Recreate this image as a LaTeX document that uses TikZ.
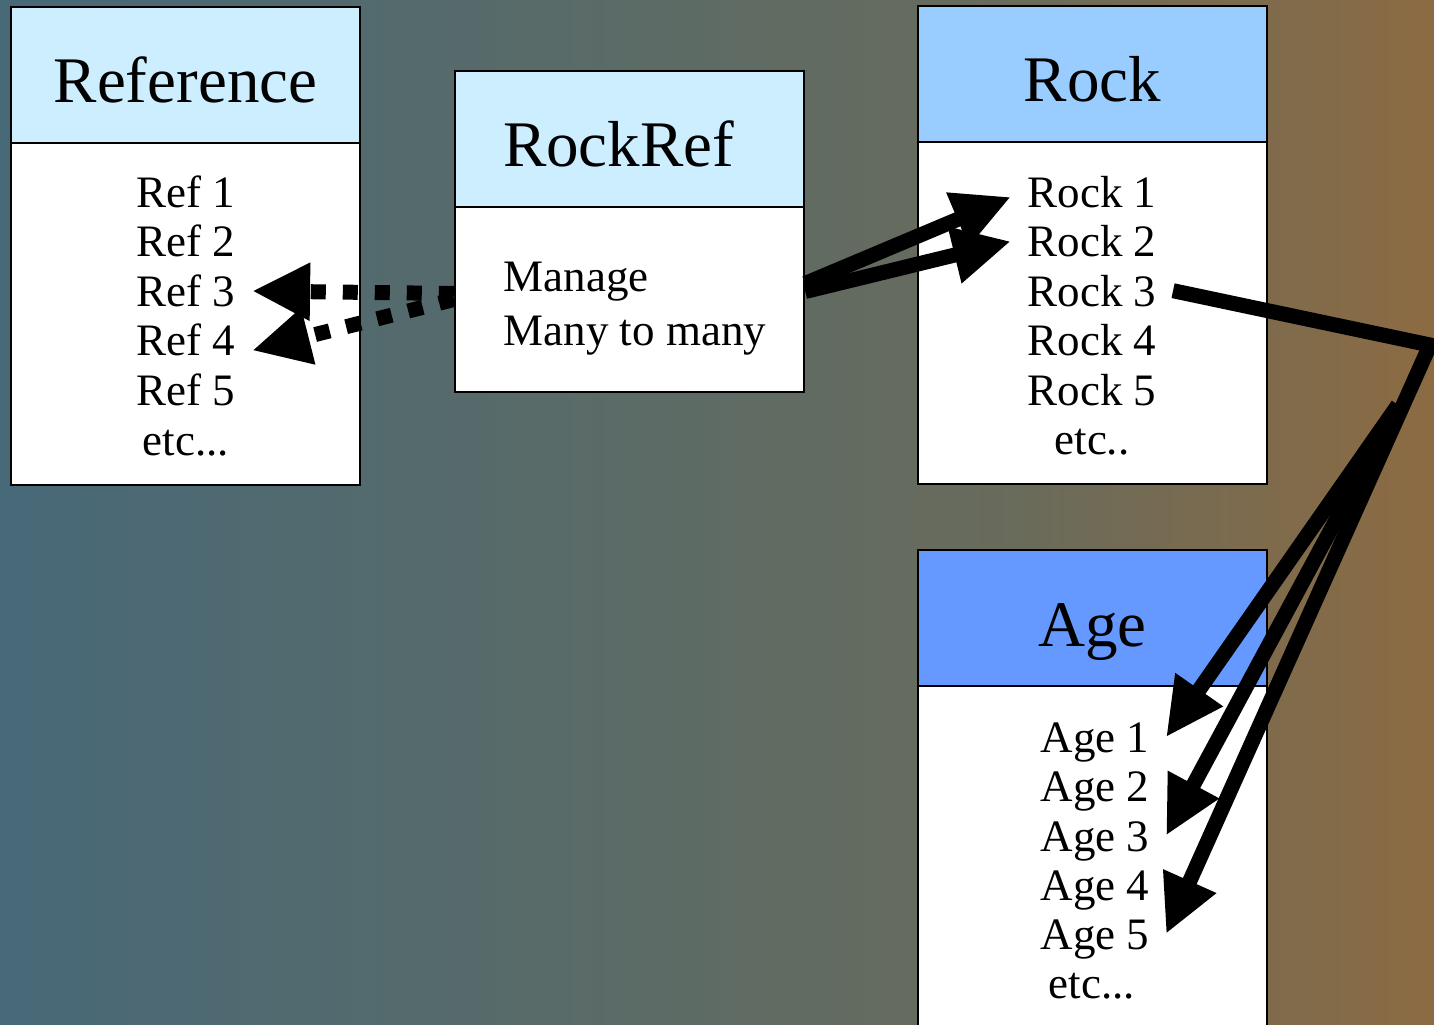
\documentclass[tikz,border=0pt]{standalone}
\usepackage{fontspec}
\setmainfont{Liberation Serif}
\usetikzlibrary{arrows.meta}

\definecolor{headpale}{HTML}{CCEEFF}
\definecolor{headmid}{HTML}{99CCFF}
\definecolor{headdeep}{HTML}{6699FF}
\pgfdeclarehorizontalshading{slate}{100bp}{
  rgb(0bp)=(0.28,0.41,0.47); rgb(25bp)=(0.28,0.41,0.47); rgb(47.5bp)=(0.36,0.42,0.40);
  rgb(60bp)=(0.41,0.42,0.36); rgb(67.5bp)=(0.48,0.42,0.31); rgb(75bp)=(0.55,0.42,0.26);
  rgb(100bp)=(0.55,0.42,0.26)}

\begin{document}
\begin{tikzpicture}[y=-1cm,
    boxbody/.style={draw, line width=0.7pt, fill=white, minimum width=3.49cm, inner sep=0pt},
    boxhead/.style={draw, line width=0.7pt, minimum width=3.49cm, minimum height=1.36cm,
      anchor=north, font=\fontsize{18.5}{22}\selectfont, text height=0.56cm, text depth=0pt},
    item/.style={font=\fontsize{12.8}{15.4}\selectfont, text height=0.31cm, text depth=0pt,
      inner ysep=0pt, inner xsep=0.16cm},
    link/.style={line width=0.15cm, -{Triangle[length=0.58cm, width=0.54cm]}},
    dotlink/.style={link, dash pattern=on 0.15cm off 0.17cm}]
      \clip (0,0) rectangle (14.34,10.25);
      \shade[shading=slate] (0,0) rectangle (14.34,10.25);

      % Reference table
      \node[boxbody, minimum height=4.78cm] (refbox) at (1.855,2.46) {};
      \node[boxhead, fill=headpale] (refhead) at (refbox.north) {Reference};
      \foreach \i in {1,...,5}
        \node[item] (ref\i) at (1.86,1.425+0.495*\i) {Ref \i};
      \node[item] (ref6) at (1.86,4.395) {etc...};

      % RockRef table
      \node[boxbody, minimum height=3.21cm] (rrbox) at (6.295,2.315) {};
      \node[boxhead, fill=headpale, text width=2.53cm, inner xsep=0.48cm, align=left]
        (rrhead) at (rrbox.north) {RockRef};
      \node[font=\fontsize{12.8}{15.4}\selectfont, align=left, anchor=west, inner sep=0pt]
        (rrnote) at (5.03,3.09) {Manage\\Many to many};

      % Rock table
      \node[boxbody, minimum height=4.78cm] (rockbox) at (10.925,2.45) {};
      \node[boxhead, fill=headmid] (rockhead) at (rockbox.north) {Rock};
      \foreach \i in {1,...,5}
        \node[item] (rock\i) at (10.92,1.425+0.494*\i) {Rock \i};
      \node[item] (rock6) at (10.92,4.39) {etc..};

      % Age table
      \node[boxbody, minimum height=4.9cm] (agebox) at (10.925,7.95) {};
      \node[boxhead, fill=headdeep] (agehead) at (agebox.north) {Age};
      \foreach \i in {1,...,5}
        \node[item] (age\i) at (10.95,6.88+0.492*\i) {Age \i};
      \node[item] (age6) at (10.92,9.83) {etc...};

      % links
      \draw[dotlink] ([yshift=-0.62cm]rrbox.west) to (ref3.east);
      \draw[dotlink] ([yshift=-0.68cm]rrbox.west) to ([yshift=-0.1cm]ref4.east);
      \draw[link] ([yshift=-0.52cm]rrbox.east) to ([yshift=-0.05cm]rock1.west);
      \draw[link] ([yshift=-0.6cm]rrbox.east) to (rock2.west);
      \coordinate (bend) at (14.3,3.45);
      \coordinate (fork) at (13.98,4.05);
      \draw[link] (rock3.east) -- (bend) -- (age5.east);
      \draw[link] (fork) to (age1.east);
      \draw[link] (fork) to (age3.east);
    \end{tikzpicture}
\end{document}
